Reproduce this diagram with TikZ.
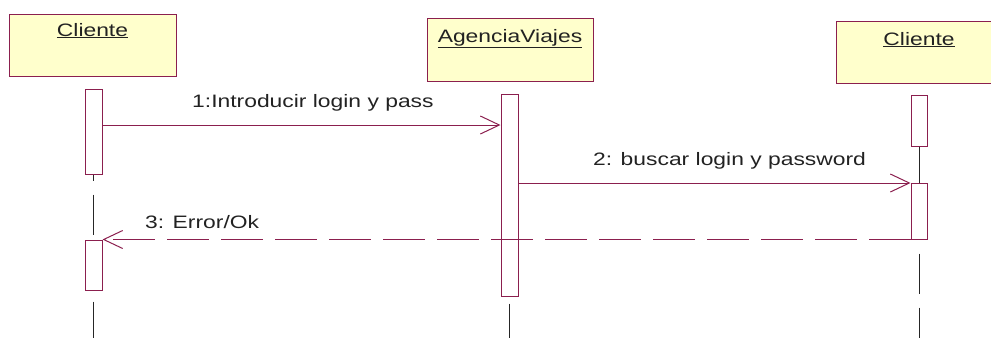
\documentclass[tikz,border=0pt]{standalone}
\usepackage{fontspec}
\newfontfamily\umlfont[FakeStretch=1.27]{Liberation Sans}
\usepackage{tikz}
\usetikzlibrary{arrows.meta}
\usetikzlibrary{positioning}
\usetikzlibrary{math}
\definecolor{umlred}{HTML}{8B1F4E}
\definecolor{umlfill}{HTML}{FFFFCC}
\definecolor{umltext}{HTML}{222222}
\tikzstyle{obj} = [rectangle, draw=umlred, fill=umlfill, line width=1pt, minimum width=166pt, minimum height=62pt, inner sep=0pt]
\tikzstyle{objname} = [font=\umlfont\fontsize{18}{20}\selectfont, text=umltext, inner sep=0pt, anchor=base]
\tikzstyle{msglbl} = [objname, anchor=base west]
\tikzstyle{act} = [rectangle, draw=umlred, fill=white, line width=1pt, minimum width=17pt, inner sep=0pt]
\tikzstyle{life} = [draw=black!85, line width=1pt, dash pattern=on 40pt off 14pt]
\tikzstyle{msg} = [-{Straight Barb[length=19pt,width=18pt]}, draw=umlred, line width=1pt]
\tikzstyle{ret} = [msg, dash pattern=on 42pt off 12pt]

\begin{document}
\begin{tikzpicture}[x=1pt, y=-1pt]

  \tikzmath{\xa = 93.5; \xb = 509.5; \xc = 919;}
  \useasboundingbox (0,0) rectangle (991,338);
  \clip (0,0) rectangle (991,338);

  % objects
  \node[obj, minimum width=167pt] (cli1) at (92.5,45) {};
  \node[obj, minimum height=63pt] (agen) at (510,49.5) {};
  \node[obj] (cli2) at (\xc,52) {};
  \node[objname] (cli1n) at (92.5,36) {\underline{Cliente}};
  \node[objname] (agenn) at (510,42) {\underline{AgenciaViajes}};
  \node[objname] (cli2n) at (\xc,45) {\underline{Cliente}};

  % activation bars
  \node[act, minimum height=85pt] (acta1) at (\xa,131.5) {};
  \node[act, minimum height=50pt] (acta2) at (\xa,265) {};
  \node[act, minimum height=202pt] (actb) at (\xb,195) {};
  \node[act, minimum width=16pt, minimum height=51pt] (actc1) at (\xc,120.5) {};
  \node[act, minimum width=16pt, minimum height=56pt] (actc2) at (\xc,211) {};

  % lifelines
  \coordinate (enda) at (\xa,338);
  \coordinate (endb) at (\xb,338);
  \coordinate (endc) at (\xc,338);
  \draw[life, dash phase=34pt] (acta1.south) -- (acta2.north);
  \draw[life, dash phase=43pt] (acta2.south) -- (enda);
  \draw[life, dash phase=47pt] (actb.south) -- (endb);
  \draw[draw=black!85, line width=1pt] (actc1.south) -- (actc2.north);
  \draw[life, dash phase=40pt] (actc2.south) -- (endc);

  % messages
  \coordinate (m1) at (0,125);
  \coordinate (m2) at (0,183);
  \coordinate (m3) at (0,239.5);
  \draw[msg] (acta1.east |- m1) -- (actb.west |- m1);
  \draw[msg] (actb.east |- m2) -- (actc2.west |- m2);
  \draw[ret] (actc2.west |- m3) -- (acta2.east |- m3);

  \node[msglbl] (lbl1) at (192,107) {1:Introducir login y pass};
  \node[msglbl] (lbl2) at (593,165) {2: buscar login y password};
  \node[msglbl] (lbl3) at (145,228) {3: Error/Ok};

\end{tikzpicture}
\end{document}
